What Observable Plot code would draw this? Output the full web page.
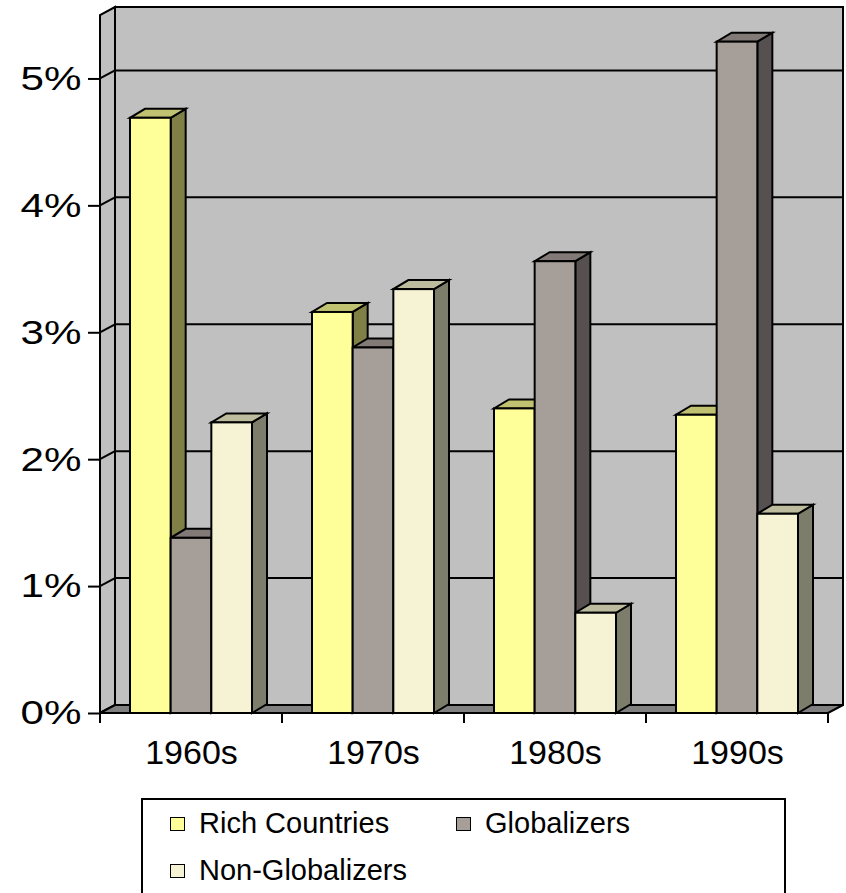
<!DOCTYPE html>
<html><head><meta charset="utf-8">
<script src="https://cdn.jsdelivr.net/npm/d3@7"></script>
<script src="https://cdn.jsdelivr.net/npm/@observablehq/plot@0.6"></script>
<style>
body{margin:0;background:#fff;}
#wrap{position:relative;width:846px;height:893px;overflow:hidden;font-family:"Liberation Sans",Arial,sans-serif;}
#chart{position:absolute;left:0;top:0;}
#legend{position:absolute;left:141px;top:798px;width:645px;height:130px;border:2px solid #000;box-sizing:border-box;background:#fff;}
.item{position:absolute;font-size:29px;line-height:29px;color:#000;white-space:nowrap;}
.sw{position:absolute;width:13px;height:12px;border:1.5px solid #000;}
</style></head><body>
<div id="wrap"><div id="chart"></div><div id="legend"></div></div>
<script>
// ---- data ----
const decades = ["1960s", "1970s", "1980s", "1990s"];
const seriesNames = ["Rich Countries", "Globalizers", "Non-Globalizers"];
const richCountries = [0.0469, 0.0316, 0.0240, 0.0235];
const globalizers = [0.0138, 0.0288, 0.0356, 0.0529];
const nonGlobalizers = [0.0229, 0.0334, 0.0079, 0.0157];
const yTicks = [0, 0.01, 0.02, 0.03, 0.04, 0.05];
const yMax = 0.055;

// ---- style ----
const frontColors = ["#FFFF99", "#A69E99", "#F6F2D4"];
const sideColors = ["#808046", "#565150", "#7D7D6B"];
const topColors = ["#C1C172", "#827A76", "#BDBC9F"];
const W = 846, H = 790, ML = 100, MR = 18, MT = 15, MB = 77;
const BW = (W - ML - MR) / decades.length;
const PAD = 30, BAR = 122 / 3;
const WDX = 15, WDY = -8;   // wall depth
const BDX = 15, BDY = -9;   // bar depth
const allSeries = [richCountries, globalizers, nonGlobalizers];

const rows = [];
decades.forEach((d, i) => seriesNames.forEach((s, j) => rows.push({decade: d, series: s, j, value: allSeries[j][i]})));

function poly(g, pts, fill) {
  return g.append("polygon").attr("points", pts.map(p => p.join(",")).join(" ")).attr("fill", fill);
}

function scene(index, scales, values, dims) {
  const x = scales.x, y = scales.y;
  const bw = x.bandwidth ? x.bandwidth() : BW;
  const x0 = dims.marginLeft, x1 = dims.width - dims.marginRight;
  const yb = y(0), yt = y(yMax);
  const g = d3.create("svg:g").attr("stroke", "#000").attr("stroke-width", 2).attr("stroke-linejoin", "miter");
  poly(g, [[x0 + WDX, yt + WDY], [x1 + WDX, yt + WDY], [x1 + WDX, yb + WDY], [x0 + WDX, yb + WDY]], "#C0C0C0");
  poly(g, [[x0, yb], [x0, yt], [x0 + WDX, yt + WDY], [x0 + WDX, yb + WDY]], "#C0C0C0");
  poly(g, [[x0, yb], [x1, yb], [x1 + WDX, yb + WDY], [x0 + WDX, yb + WDY]], "#808080");
  for (const v of yTicks.slice(1)) {
    g.append("line").attr("x1", x0 + WDX).attr("x2", x1 + WDX).attr("y1", y(v) + WDY).attr("y2", y(v) + WDY);
    g.append("line").attr("x1", x0).attr("x2", x0 + WDX).attr("y1", y(v)).attr("y2", y(v) + WDY);
  }
  g.append("line").attr("x1", x0).attr("x2", x0).attr("y1", yb).attr("y2", yt);
  g.append("line").attr("x1", x0).attr("x2", x1).attr("y1", yb).attr("y2", yb);
  const bounds = decades.map(d => x(d)).concat([x(decades[decades.length - 1]) + bw]);
  for (const b of bounds) g.append("line").attr("x1", b).attr("x2", b).attr("y1", yb).attr("y2", yb + 10);
  return g.node();
}

function barDepth(index, scales) {
  const x = scales.x, y = scales.y;
  const g = d3.create("svg:g").attr("stroke", "#000").attr("stroke-width", 2);
  const sides = g.append("g"), tops = g.append("g");
  for (const r of rows) {
    const L = x(r.decade) + PAD + r.j * BAR, R = L + BAR, Y = y(r.value), Y0 = y(0);
    poly(sides, [[R, Y0], [R, Y], [R + BDX, Y + BDY], [R + BDX, Y0 + BDY]], sideColors[r.j]);
    poly(tops, [[L, Y], [R, Y], [R + BDX, Y + BDY], [L + BDX, Y + BDY]], topColors[r.j]);
  }
  return g.node();
}

const fronts = seriesNames.map((s, j) => Plot.barY(rows.filter(r => r.j === j), {
  x: "decade", y: "value",
  insetLeft: PAD + j * BAR, insetRight: BW - PAD - (j + 1) * BAR,
  fill: frontColors[j], stroke: "#000", strokeWidth: 2
}));

const chart = Plot.plot({
  width: W, height: H,
  marginLeft: ML, marginRight: MR, marginTop: MT, marginBottom: MB,
  style: {fontFamily: "'Liberation Sans', Arial, sans-serif", background: "transparent", overflow: "visible"},
  x: {type: "band", domain: decades, padding: 0, label: null},
  y: {domain: [0, yMax], label: null},
  marks: [
    scene,
    barDepth,
    ...fronts,
    Plot.axisY(yTicks, {tickSize: 12, tickPadding: 7, tickFormat: d3.format(".0%"), fontSize: 34, stroke: "#000", strokeWidth: 2, color: "#000", label: null}),
    Plot.axisX({tickSize: 0, tickPadding: 26, fontSize: 34, color: "#000", label: null})
  ]
});
document.getElementById("chart").appendChild(chart);

// widen the y tick labels like the original's stretched lettering
chart.querySelectorAll('g[aria-label="y-axis tick label"] text').forEach(t => {
  const len = t.getComputedTextLength();
  if (len > 0) { t.setAttribute("textLength", (len * 1.24).toFixed(1)); t.setAttribute("lengthAdjust", "spacingAndGlyphs"); }
});

// legend
const legend = document.getElementById("legend");
const legendPos = [[27, 9], [313, 9], [27, 56]];
seriesNames.forEach((s, j) => {
  const [lx, ly] = legendPos[j];
  const sw = document.createElement("div");
  sw.className = "sw"; sw.style.left = lx + "px"; sw.style.top = (ly + 8) + "px"; sw.style.background = frontColors[j];
  legend.appendChild(sw);
  const t = document.createElement("div");
  t.className = "item"; t.style.left = (lx + 29) + "px"; t.style.top = ly + "px"; t.textContent = s;
  legend.appendChild(t);
});
</script>
</body></html>
